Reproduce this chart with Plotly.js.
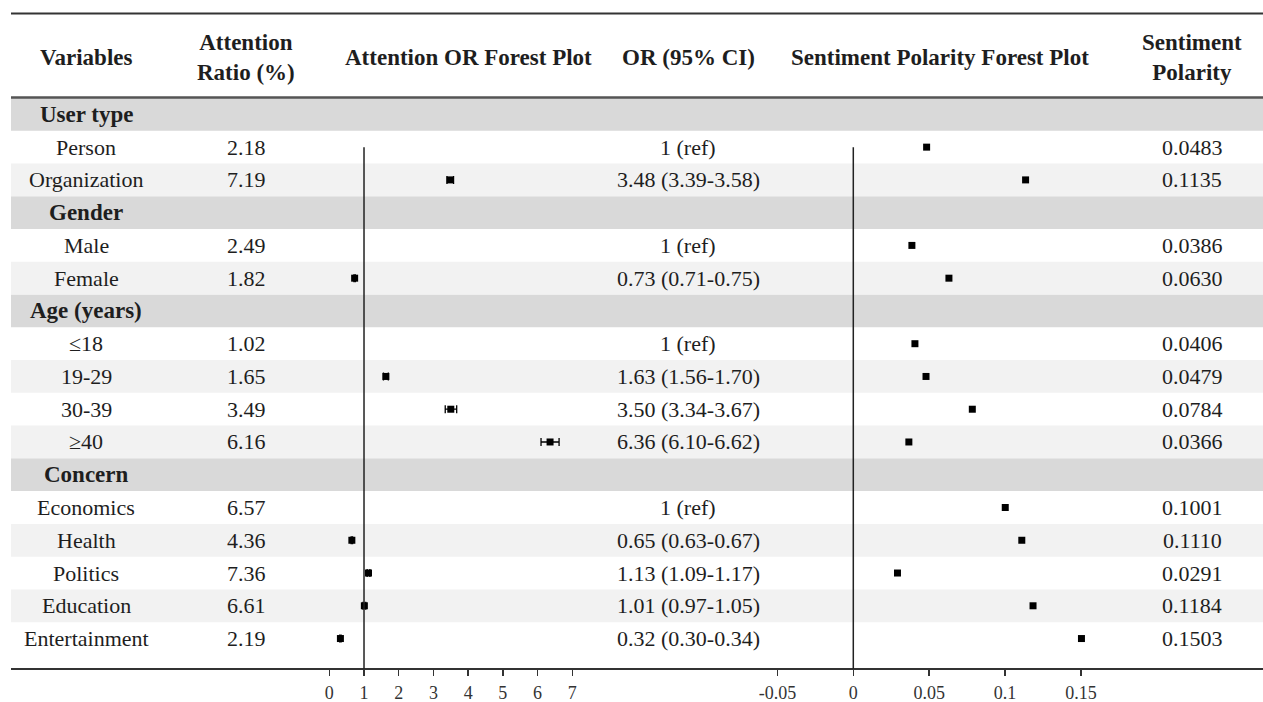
<!DOCTYPE html>
<html>
<head>
<meta charset="utf-8">
<script src="https://cdn.plot.ly/plotly-3.0.1.min.js"></script>
<style>html,body{margin:0;padding:0;background:#fff;}#chart{width:1263px;height:702px;}</style>
</head>
<body>
<div id="chart"></div>
<script>
// ---------------- data ----------------
const groups = ["User type", "Gender", "Age (years)", "Concern"];
const labels = ["Person", "Organization", "Male", "Female", "≤18", "19-29", "30-39", "≥40",
                "Economics", "Health", "Politics", "Education", "Entertainment"];
const groupOf = [0, 0, 1, 1, 2, 2, 2, 2, 3, 3, 3, 3, 3];
const attentionRatio = ["2.18", "7.19", "2.49", "1.82", "1.02", "1.65", "3.49", "6.16",
                        "6.57", "4.36", "7.36", "6.61", "2.19"];
const isRef = [true, false, true, false, true, false, false, false, true, false, false, false, false];
const orValue = [1, 3.48, 1, 0.73, 1, 1.63, 3.50, 6.36, 1, 0.65, 1.13, 1.01, 0.32];
const orLow   = [null, 3.39, null, 0.71, null, 1.56, 3.34, 6.10, null, 0.63, 1.09, 0.97, 0.30];
const orHigh  = [null, 3.58, null, 0.75, null, 1.70, 3.67, 6.62, null, 0.67, 1.17, 1.05, 0.34];
const sentiment = [0.0483, 0.1135, 0.0386, 0.0630, 0.0406, 0.0479, 0.0784, 0.0366,
                   0.1001, 0.1110, 0.0291, 0.1184, 0.1503];
const orTicks = [0, 1, 2, 3, 4, 5, 6, 7];
const spTicks = [-0.05, 0, 0.05, 0.1, 0.15];
const spTickText = ["-0.05", "0", "0.05", "0.1", "0.15"];
const headers = ["Variables", "Attention<br>Ratio (%)", "Attention OR Forest Plot",
                 "OR (95% CI)", "Sentiment Polarity Forest Plot", "Sentiment<br>Polarity"];

// ---------------- layout helpers ----------------
const W = 1263, H = 702;
const px = v => v / W;
const py = v => 1 - v / H;
const rowH = 32.76, firstCenter = 114.38, axisY = 669;
const yTop = (0 - firstCenter) / rowH;
const yBot = (axisY - firstCenter) / rowH;

const FONT = "Liberation Serif, Times New Roman, serif";
const TXT = "#1e1e1e";
const colX = [86, 246, 468, 688, 940, 1192];

// build rows
const groupRow = [];
const dataRow = [];
let r = 0;
groups.forEach((g, gi) => {
  groupRow.push(r); r++;
  labels.forEach((l, i) => { if (groupOf[i] === gi) { dataRow[i] = r; r++; } });
});

const shapes = [];
const annotations = [];

// row backgrounds
groupRow.forEach(ri => {
  shapes.push({type: "rect", layer: "below", xref: "paper", yref: "y",
    x0: px(11), x1: 1, y0: ri - 0.5, y1: ri + 0.5, fillcolor: "#d9d9d9", line: {width: 0}});
});
let prevG = -1, k = 0;
labels.forEach((l, i) => {
  if (groupOf[i] !== prevG) { prevG = groupOf[i]; k = 0; }
  if (k % 2 === 1) {
    shapes.push({type: "rect", layer: "below", xref: "paper", yref: "y",
      x0: px(11), x1: 1, y0: dataRow[i] - 0.5, y1: dataRow[i] + 0.5, fillcolor: "#f2f2f2", line: {width: 0}});
  }
  k++;
});

// rules
shapes.push({type: "line", xref: "paper", yref: "paper", x0: px(11), x1: 1, y0: py(13.5), y1: py(13.5),
  line: {color: "#333", width: 2}});
shapes.push({type: "line", xref: "paper", yref: "paper", x0: px(11), x1: 1, y0: py(97.5), y1: py(97.5),
  line: {color: "#555", width: 2.5}});
shapes.push({type: "line", xref: "paper", yref: "paper", x0: px(11), x1: 1, y0: py(axisY), y1: py(axisY),
  line: {color: "#333", width: 2}});

// reference lines
shapes.push({type: "line", xref: "x", yref: "y", x0: 1, x1: 1, y0: dataRow[0], y1: yBot,
  line: {color: "#222", width: 1.5}});
shapes.push({type: "line", xref: "x2", yref: "y", x0: 0, x1: 0, y0: dataRow[0], y1: yBot,
  line: {color: "#222", width: 1.5}});

// headers
headers.forEach((h, j) => {
  annotations.push({xref: "paper", yref: "paper", x: px(colX[j]), y: py(58), text: "<b>" + h + "</b>",
    showarrow: false, xanchor: "center", yanchor: "middle",
    font: {family: FONT, size: 23, color: TXT}});
});

// group labels
groups.forEach((g, gi) => {
  annotations.push({xref: "paper", yref: "y", x: px(colX[0]), y: groupRow[gi], text: "<b>" + g + "</b>",
    showarrow: false, xanchor: "center", yanchor: "middle",
    font: {family: FONT, size: 23, color: TXT}});
});

// data rows
labels.forEach((l, i) => {
  const y = dataRow[i];
  const orText = isRef[i] ? "1 (ref)" :
    orValue[i].toFixed(2) + " (" + orLow[i].toFixed(2) + "-" + orHigh[i].toFixed(2) + ")";
  const cells = [l, attentionRatio[i], null, orText, null, sentiment[i].toFixed(4)];
  cells.forEach((c, j) => {
    if (c === null) return;
    annotations.push({xref: "paper", yref: "y", x: px(colX[j]), y: y, text: c,
      showarrow: false, xanchor: "center", yanchor: "middle",
      font: {family: FONT, size: 22, color: TXT}});
  });
});

// ---------------- traces ----------------
const orIdx = labels.map((l, i) => i).filter(i => !isRef[i]);
const traceOR = {
  type: "scatter", mode: "markers", xaxis: "x", yaxis: "y",
  x: orIdx.map(i => orValue[i]),
  y: orIdx.map(i => dataRow[i]),
  marker: {symbol: "square", size: 7, color: "#000"},
  error_x: {type: "data", symmetric: false,
    array: orIdx.map(i => orHigh[i] - orValue[i]),
    arrayminus: orIdx.map(i => orValue[i] - orLow[i]),
    width: 4, thickness: 1.3, color: "#000"},
  hoverinfo: "skip"
};
const traceSP = {
  type: "scatter", mode: "markers", xaxis: "x2", yaxis: "y",
  x: sentiment,
  y: labels.map((l, i) => dataRow[i]),
  marker: {symbol: "square", size: 7, color: "#000"},
  hoverinfo: "skip"
};

// x axis scales (pixel placement)
const x1L = 300, x1R = 610, x1zero = 329.3, x1unit = 34.71;
const x2L = 760, x2R = 1110, x2zero = 853.3, x2unit = 1518;

const tickFont = {family: FONT, size: 18, color: "#333"};
const layout = {
  width: W, height: H,
  margin: {l: 0, r: 0, t: 0, b: 0},
  paper_bgcolor: "#fff", plot_bgcolor: "rgba(0,0,0,0)",
  showlegend: false,
  xaxis: {domain: [px(x1L), px(x1R)], range: [(x1L - x1zero) / x1unit, (x1R - x1zero) / x1unit],
    anchor: "y", tickmode: "array", tickvals: orTicks, ticktext: orTicks.map(String),
    ticks: "outside", ticklen: 6, tickwidth: 1.5, tickcolor: "#333", ticklabelstandoff: 1,
    showgrid: false, zeroline: false, showline: false, tickfont: tickFont, fixedrange: true},
  xaxis2: {domain: [px(x2L), px(x2R)], range: [(x2L - x2zero) / x2unit, (x2R - x2zero) / x2unit],
    anchor: "y", tickmode: "array", tickvals: spTicks, ticktext: spTickText,
    ticks: "outside", ticklen: 6, tickwidth: 1.5, tickcolor: "#333", ticklabelstandoff: 1,
    showgrid: false, zeroline: false, showline: false, tickfont: tickFont, fixedrange: true},
  yaxis: {domain: [(H - axisY) / H, 1], range: [yBot, yTop], visible: false,
    showgrid: false, zeroline: false, fixedrange: true},
  shapes: shapes,
  annotations: annotations
};

Plotly.newPlot("chart", [traceOR, traceSP], layout, {staticPlot: true, displayModeBar: false});
</script>
</body>
</html>
